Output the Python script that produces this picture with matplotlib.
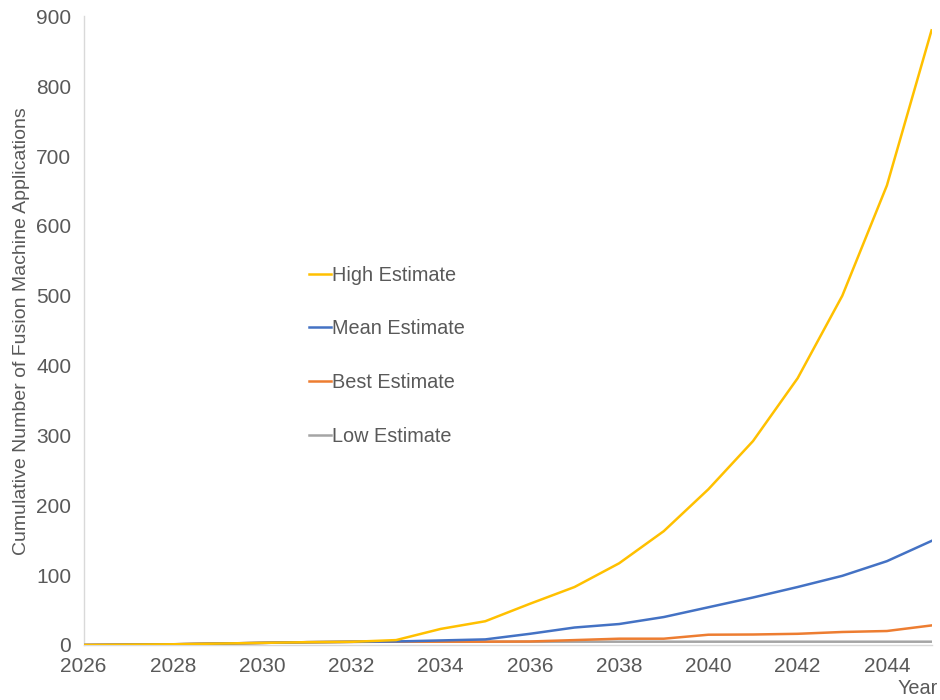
import numpy as np
import matplotlib.pyplot as plt

plt.rcParams['font.family'] = ['Liberation Sans', 'DejaVu Sans']

years = list(range(2026, 2046))
high_est = [0, 0.5, 1, 2, 3, 4, 4.5, 7, 23, 34, 59, 83, 117, 163, 223, 292, 382, 500, 658, 880]
mean_est = [0, 0.5, 1, 2, 3, 4, 4.5, 5, 6.5, 8, 16, 25, 30, 40, 54, 68, 83, 99, 120, 149]
best_est = [0, 0.5, 1, 2, 3, 4, 4.5, 4.7, 4.7, 4.7, 5, 7, 9, 9, 14.7, 15, 16, 18.6, 20, 28]
low_est = [0, 0.5, 1, 2, 3, 4, 4.5, 4.7, 4.7, 4.7, 4.7, 4.7, 4.7, 4.7, 4.7, 4.7, 4.7, 4.7, 4.7, 4.7]

txt_color = '#595959'

fig = plt.figure(figsize=(9.4, 7), dpi=100)
ax = fig.add_axes([0.089, 0.0786, 0.902, 0.898])

ax.plot(years, low_est, color='#A5A5A5', lw=1.8, label='Low Estimate', zorder=2)
ax.plot(years, best_est, color='#ED7D31', lw=1.8, label='Best Estimate', zorder=3)
ax.plot(years, mean_est, color='#4472C4', lw=1.8, label='Mean Estimate', zorder=4)
ax.plot(years, high_est, color='#FFC000', lw=1.8, label='High Estimate', zorder=5)

ax.set_xlim(2026, 2045)
ax.set_ylim(0, 900)
ax.set_xticks(range(2026, 2045, 2))
ax.set_yticks(range(0, 901, 100))
ax.tick_params(length=0, labelsize=15, colors=txt_color)
ax.tick_params(axis='x', pad=9)
ax.tick_params(axis='y', pad=9)

for s in ['top', 'right']:
    ax.spines[s].set_visible(False)
for s in ['left', 'bottom']:
    ax.spines[s].set_color('#D9D9D9')
    ax.spines[s].set_linewidth(1)

ax.set_ylabel('Cumulative Number of Fusion Machine Applications', fontsize=14, color=txt_color, labelpad=4)
fig.text(0.998, 0.003, 'Year', fontsize=14.3, color=txt_color, ha='right', va='bottom')

h, l = ax.get_legend_handles_labels()
leg = ax.legend(h[::-1], l[::-1], loc='upper left', bbox_to_anchor=(0.245, 0.632),
                frameon=False, fontsize=14.3, handlelength=1.1, handletextpad=0.05,
                labelspacing=1.75)
for t in leg.get_texts():
    t.set_color(txt_color)

plt.savefig('out.png', dpi=100)
